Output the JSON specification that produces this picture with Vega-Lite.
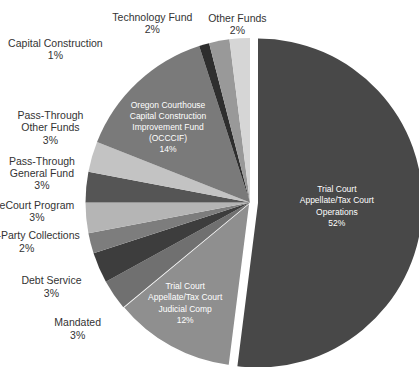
{
  "$schema": "https://vega.github.io/schema/vega-lite/v6.json",
  "width": 330,
  "height": 329,
  "autosize": {"type": "none"},
  "padding": {"left": 85, "top": 38, "right": 4, "bottom": 0},
  "background": "white",
  "config": {"view": {"stroke": null}},
  "data": {
    "values": [
      {"idx": 1, "cat": "Ops", "value": 52, "label": "Trial Court\nAppellate/Tax Court\nOperations\n52%"},
      {"idx": 2, "cat": "Judicial", "value": 12, "label": "Trial Court\nAppellate/Tax Court\nJudicial Comp\n12%"},
      {"idx": 3, "cat": "Mandated", "value": 3, "label": "Mandated\n3%"},
      {"idx": 4, "cat": "Debt", "value": 3, "label": "Debt Service\n3%"},
      {"idx": 5, "cat": "Third", "value": 2, "label": "Third-Party Collections\n2%"},
      {"idx": 6, "cat": "eCourt", "value": 3, "label": "eCourt Program\n3%"},
      {"idx": 7, "cat": "PTGen", "value": 3, "label": "Pass-Through\nGeneral Fund\n3%"},
      {"idx": 8, "cat": "PTOther", "value": 3, "label": "Pass-Through\nOther Funds\n3%"},
      {"idx": 9, "cat": "OCCCIF", "value": 14, "label": "Oregon Courthouse\nCapital Construction\nImprovement Fund\n(OCCCIF)\n14%"},
      {"idx": 10, "cat": "Capital", "value": 1, "label": "Capital Construction\n1%"},
      {"idx": 11, "cat": "Tech", "value": 2, "label": "Technology Fund\n2%"},
      {"idx": 12, "cat": "Other", "value": 2, "label": "Other Funds\n2%"}
    ]
  },
  "encoding": {
    "theta": {"field": "value", "type": "quantitative", "stack": true},
    "order": {"field": "idx", "type": "quantitative"}
  },
  "layer": [
    {
      "mark": {"type": "arc", "stroke": "white"},
      "encoding": {
        "color": {
          "field": "cat", "type": "nominal", "legend": null,
          "scale": {
            "domain": ["Ops", "Judicial", "Mandated", "Debt", "Third", "eCourt", "PTGen", "PTOther", "OCCCIF", "Capital", "Tech", "Other"],
            "range": ["#484848", "#8f8f8f", "#707070", "#3d3d3d", "#7d7d7d", "#b5b5b5", "#555555", "#c3c3c3", "#7a7a7a", "#2e2e2e", "#999999", "#d6d6d6"]
          }
        },
        "opacity": {"condition": {"test": "datum.cat === 'Ops'", "value": 0}, "value": 1},
        "strokeWidth": {"condition": {"test": "datum.cat === 'Judicial'", "value": 1.5}, "value": 0}
      }
    },
    {
      "mark": {"type": "arc", "xOffset": 8, "yOffset": 0.5, "strokeWidth": 0},
      "encoding": {
        "color": {"field": "cat", "type": "nominal", "legend": null},
        "opacity": {"condition": {"test": "datum.cat === 'Ops'", "value": 1}, "value": 0}
      }
    },
    {
      "mark": {"type": "text", "radius": 79, "xOffset": 8, "dy": -18.5, "fontSize": 8.5, "lineHeight": 11.5, "font": "Liberation Sans", "fill": "white", "align": "center", "baseline": "middle", "lineBreak": "\n"},
      "encoding": {"detail": {"field": "cat"}, "text": {"condition": {"test": "datum.cat === 'Ops'", "field": "label"}, "value": ""}}
    },
    {
      "mark": {"type": "text", "radius": 118, "dx": -8, "dy": -20, "fontSize": 8.5, "lineHeight": 11.5, "font": "Liberation Sans", "fill": "white", "align": "center", "baseline": "middle", "lineBreak": "\n"},
      "encoding": {"detail": {"field": "cat"}, "text": {"condition": {"test": "datum.cat === 'Judicial'", "field": "label"}, "value": ""}}
    },
    {
      "mark": {"type": "text", "radius": 111, "dx": -6, "dy": -17, "fontSize": 8.5, "lineHeight": 11, "font": "Liberation Sans", "fill": "white", "align": "center", "baseline": "middle", "lineBreak": "\n"},
      "encoding": {"detail": {"field": "cat"}, "text": {"condition": {"test": "datum.cat === 'OCCCIF'", "field": "label"}, "value": ""}}
    },
    {
      "mark": {"type": "text", "radius": 212, "dx": 3, "dy": 1.5, "fontSize": 10.5, "lineHeight": 12.5, "font": "Liberation Sans", "fill": "#333333", "align": "center", "baseline": "middle", "lineBreak": "\n"},
      "encoding": {"detail": {"field": "cat"}, "text": {"condition": {"test": "datum.cat === 'Mandated'", "field": "label"}, "value": ""}}
    },
    {
      "mark": {"type": "text", "radius": 212, "dx": -4, "dy": -5.5, "fontSize": 10.5, "lineHeight": 12.5, "font": "Liberation Sans", "fill": "#333333", "align": "center", "baseline": "middle", "lineBreak": "\n"},
      "encoding": {"detail": {"field": "cat"}, "text": {"condition": {"test": "datum.cat === 'Debt'", "field": "label"}, "value": ""}}
    },
    {
      "mark": {"type": "text", "radius": 212, "dx": -18, "dy": -19, "fontSize": 10.5, "lineHeight": 12.5, "font": "Liberation Sans", "fill": "#333333", "align": "center", "baseline": "middle", "lineBreak": "\n"},
      "encoding": {"detail": {"field": "cat"}, "text": {"condition": {"test": "datum.cat === 'Third'", "field": "label"}, "value": ""}}
    },
    {
      "mark": {"type": "text", "radius": 212, "dx": -2, "dy": -16.5, "fontSize": 10.5, "lineHeight": 12.5, "font": "Liberation Sans", "fill": "#333333", "align": "center", "baseline": "middle", "lineBreak": "\n"},
      "encoding": {"detail": {"field": "cat"}, "text": {"condition": {"test": "datum.cat === 'eCourt'", "field": "label"}, "value": ""}}
    },
    {
      "mark": {"type": "text", "radius": 212, "dx": 3, "dy": -21, "fontSize": 10.5, "lineHeight": 12, "font": "Liberation Sans", "fill": "#333333", "align": "center", "baseline": "middle", "lineBreak": "\n"},
      "encoding": {"detail": {"field": "cat"}, "text": {"condition": {"test": "datum.cat === 'PTGen'", "field": "label"}, "value": ""}}
    },
    {
      "mark": {"type": "text", "radius": 212, "dx": 4, "dy": -27.5, "fontSize": 10.5, "lineHeight": 12.5, "font": "Liberation Sans", "fill": "#333333", "align": "center", "baseline": "middle", "lineBreak": "\n"},
      "encoding": {"detail": {"field": "cat"}, "text": {"condition": {"test": "datum.cat === 'PTOther'", "field": "label"}, "value": ""}}
    },
    {
      "mark": {"type": "text", "radius": 185, "dx": -143, "dy": 19.5, "fontSize": 10.5, "lineHeight": 12, "font": "Liberation Sans", "fill": "#333333", "align": "center", "baseline": "middle", "lineBreak": "\n"},
      "encoding": {"detail": {"field": "cat"}, "text": {"condition": {"test": "datum.cat === 'Capital'", "field": "label"}, "value": ""}}
    },
    {
      "mark": {"type": "text", "radius": 185, "dx": -63, "dy": -3, "fontSize": 10.5, "lineHeight": 12, "font": "Liberation Sans", "fill": "#333333", "align": "center", "baseline": "middle", "lineBreak": "\n"},
      "encoding": {"detail": {"field": "cat"}, "text": {"condition": {"test": "datum.cat === 'Tech'", "field": "label"}, "value": ""}}
    },
    {
      "mark": {"type": "text", "radius": 185, "dx": -1, "dy": 1.5, "fontSize": 10.5, "lineHeight": 12, "font": "Liberation Sans", "fill": "#333333", "align": "center", "baseline": "middle", "lineBreak": "\n"},
      "encoding": {"detail": {"field": "cat"}, "text": {"condition": {"test": "datum.cat === 'Other'", "field": "label"}, "value": ""}}
    }
  ]
}
